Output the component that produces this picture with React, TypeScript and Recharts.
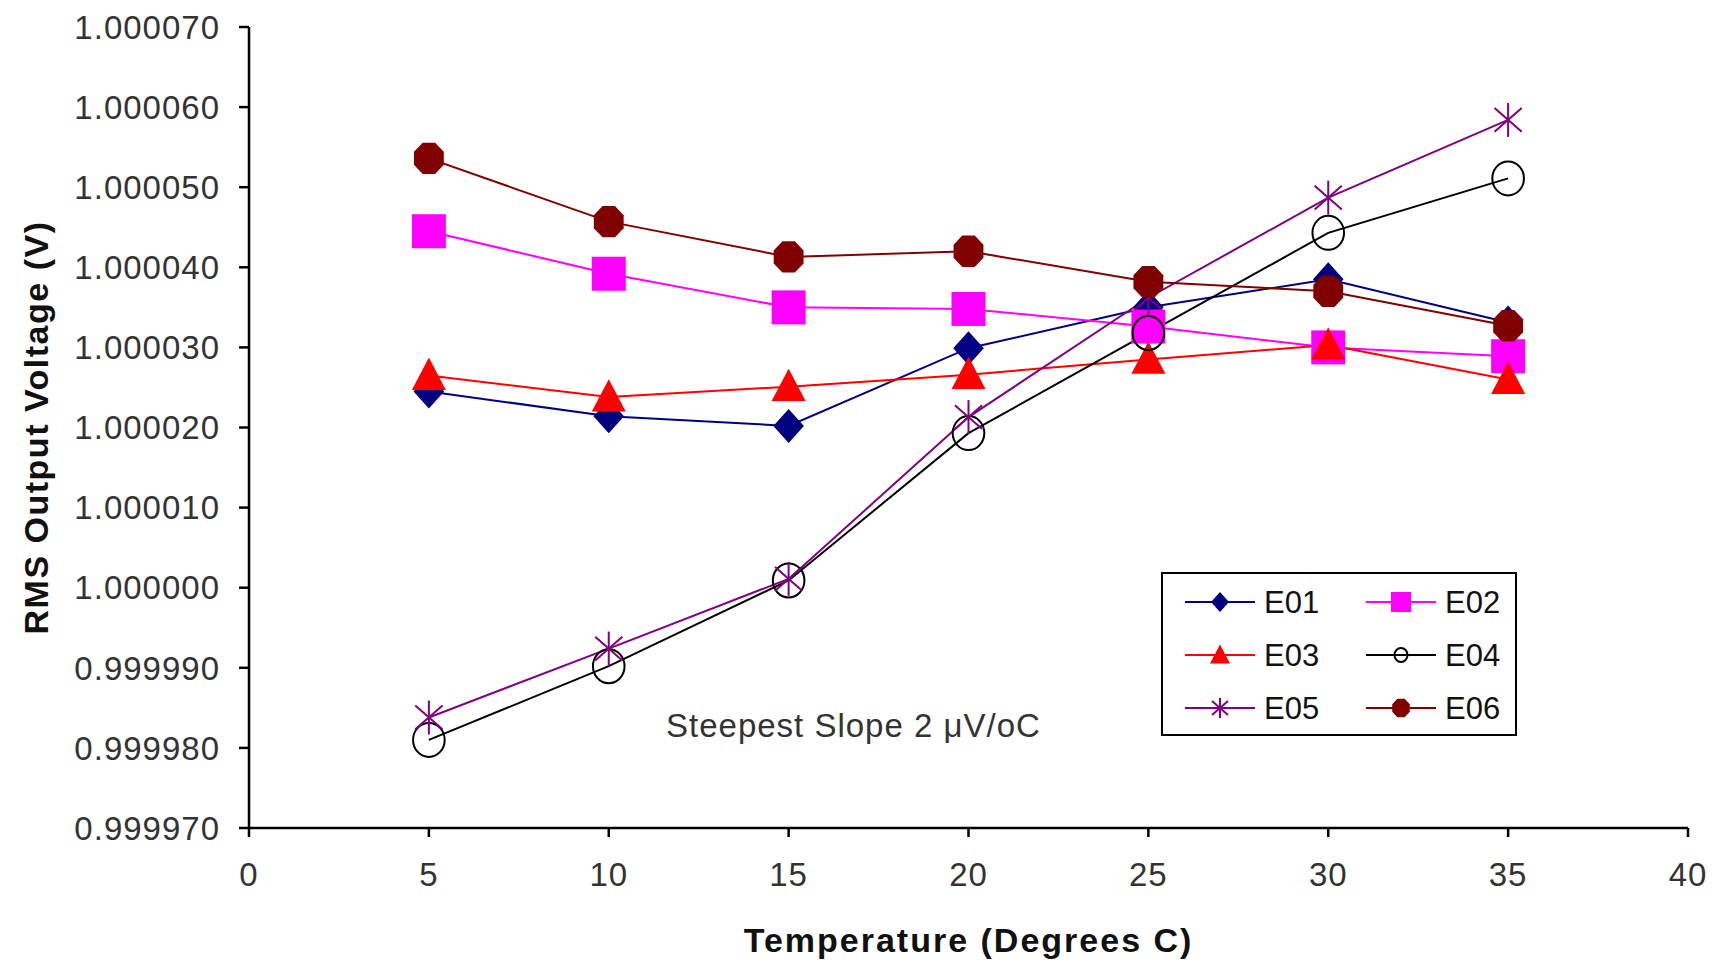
import { LineChart, Line, XAxis, YAxis } from 'recharts'

const temps = [5, 10, 15, 20, 25, 30, 35]
const e01 = [1.0000245, 1.0000214, 1.0000202, 1.0000299, 1.000035, 1.0000385, 1.0000331]
const e02 = [1.0000445, 1.0000392, 1.000035, 1.0000348, 1.0000326, 1.00003, 1.0000289]
const e03 = [1.0000265, 1.0000238, 1.0000251, 1.0000266, 1.0000285, 1.0000303, 1.000026]
const e04 = [0.999981, 0.9999902, 1.0000009, 1.0000193, 1.0000318, 1.0000443, 1.0000511]
const e05 = [0.9999838, 0.9999924, 1.0000011, 1.0000213, 1.0000362, 1.0000487, 1.0000584]
const e06 = [1.0000536, 1.0000457, 1.0000413, 1.000042, 1.0000382, 1.000037, 1.0000327]

const xTicks = [0, 5, 10, 15, 20, 25, 30, 35, 40]
const yTicks = [0.99997, 0.99998, 0.99999, 1.0, 1.00001, 1.00002, 1.00003, 1.00004, 1.00005, 1.00006, 1.00007]

type Shape = 'diamond' | 'square' | 'triangle' | 'circle' | 'star' | 'octagon'

const series: { name: string; values: number[]; color: string; shape: Shape }[] = [
  { name: 'E01', values: e01, color: '#000080', shape: 'diamond' },
  { name: 'E02', values: e02, color: '#FF00FF', shape: 'square' },
  { name: 'E03', values: e03, color: '#FF0000', shape: 'triangle' },
  { name: 'E04', values: e04, color: '#000000', shape: 'circle' },
  { name: 'E05', values: e05, color: '#800080', shape: 'star' },
  { name: 'E06', values: e06, color: '#800000', shape: 'octagon' },
]

const data = temps.map((t, i) => {
  const row: Record<string, number> = { t }
  series.forEach(s => { row[s.name] = s.values[i] })
  return row
})

const FONT = '"Liberation Sans", Arial, sans-serif'

function marker(shape: Shape, color: string, cx: number, cy: number, r: number, key?: string) {
  switch (shape) {
    case 'diamond':
      return <polygon key={key} points={`${cx},${cy - r} ${cx + r * 0.9},${cy} ${cx},${cy + r} ${cx - r * 0.9},${cy}`} fill={color} />
    case 'square':
      return <rect key={key} x={cx - r} y={cy - r} width={2 * r} height={2 * r} fill={color} />
    case 'triangle':
      return <polygon key={key} points={`${cx},${cy - r * 1.05} ${cx + r},${cy + r * 0.85} ${cx - r},${cy + r * 0.85}`} fill={color} />
    case 'circle':
      return <ellipse key={key} cx={cx} cy={cy} rx={r * 0.93} ry={r} fill="none" stroke={color} strokeWidth={2} />
    case 'star':
      return (
        <g key={key} stroke={color} strokeWidth={2}>
          <line x1={cx} y1={cy - r} x2={cx} y2={cy + r} />
          <line x1={cx - r * 0.8} y1={cy - r * 0.7} x2={cx + r * 0.8} y2={cy + r * 0.7} />
          <line x1={cx - r * 0.8} y1={cy + r * 0.7} x2={cx + r * 0.8} y2={cy - r * 0.7} />
        </g>
      )
    case 'octagon': {
      const pts: string[] = []
      for (let k = 0; k < 8; k++) {
        const a = Math.PI / 8 + (k * Math.PI) / 4
        pts.push(`${cx + r * 0.95 * Math.cos(a)},${cy + r * Math.sin(a)}`)
      }
      return <polygon key={key} points={pts.join(' ')} fill={color} />
    }
  }
}

function LegendBox() {
  return (
    <div style={{ position: 'absolute', left: 1161, top: 572, width: 356, height: 164, border: '2px solid #000', boxSizing: 'border-box', background: '#fff' }}>
      <svg width={352} height={160} style={{ display: 'block' }}>
        {series.map((s, i) => {
          const col = i % 2
          const row = Math.floor(i / 2)
          const x0 = col === 0 ? 22 : 203
          const y = 28 + row * 53
          return (
            <g key={s.name}>
              <line x1={x0} y1={y} x2={x0 + 70} y2={y} stroke={s.color} strokeWidth={2} />
              {marker(s.shape, s.color, x0 + 35, y, s.shape === 'circle' ? 7 : 10)}
              <text x={x0 + 79} y={y + 11} fontSize={31} fontFamily={FONT} fill="#111">{s.name}</text>
            </g>
          )
        })}
      </svg>
    </div>
  )
}

export default function App() {
  return (
    <div style={{ position: 'absolute', left: 0, top: 0, width: 1719, height: 960, background: '#fff' }}>
      <LineChart width={1719} height={960} data={data} margin={{ top: 27, right: 31, left: 0, bottom: 0 }}>
        <XAxis
          dataKey="t"
          type="number"
          domain={[0, 40]}
          ticks={xTicks}
          tickSize={9}
          tickMargin={26}
          height={132}
          stroke="#000"
          strokeWidth={2.5}
          tick={{ fontSize: 33, fontFamily: FONT, fill: '#333', letterSpacing: 1 }}
          label={{ value: 'Temperature (Degrees C)', position: 'insideBottom', offset: 8, style: { fontSize: 34, fontWeight: 'bold', fontFamily: FONT, fill: '#111', letterSpacing: 2 } }}
        />
        <YAxis
          type="number"
          domain={[0.99997, 1.00007]}
          ticks={yTicks}
          tickFormatter={(v: number) => v.toFixed(6)}
          width={249}
          tickSize={10}
          tickMargin={19}
          stroke="#000"
          strokeWidth={2.5}
          tick={{ fontSize: 33, fontFamily: FONT, fill: '#333', letterSpacing: 1 }}
          label={{
            content: ({ viewBox }: any) => {
              const x = viewBox.x + 48
              const y = viewBox.y + viewBox.height / 2
              return (
                <text x={x} y={y} transform={`rotate(-90 ${x} ${y})`} textAnchor="middle" fontSize={34} fontWeight="bold" fontFamily={FONT} fill="#111" letterSpacing={1.5}>
                  RMS Output Voltage (V)
                </text>
              )
            },
          }}
        />
        {series.map(s => (
          <Line
            key={s.name}
            dataKey={s.name}
            type="linear"
            stroke={s.color}
            strokeWidth={2}
            isAnimationActive={false}
            dot={(p: any) => marker(s.shape, s.color, p.cx, p.cy, 17, `${s.name}-${p.index}`)}
            activeDot={false}
          />
        ))}
      </LineChart>
      <LegendBox />
      <div style={{ position: 'absolute', left: 666, top: 707, fontSize: 33, fontFamily: FONT, color: '#333', letterSpacing: 1, whiteSpace: 'nowrap', pointerEvents: 'none' }}>
        Steepest Slope 2 μV/oC
      </div>
    </div>
  )
}
